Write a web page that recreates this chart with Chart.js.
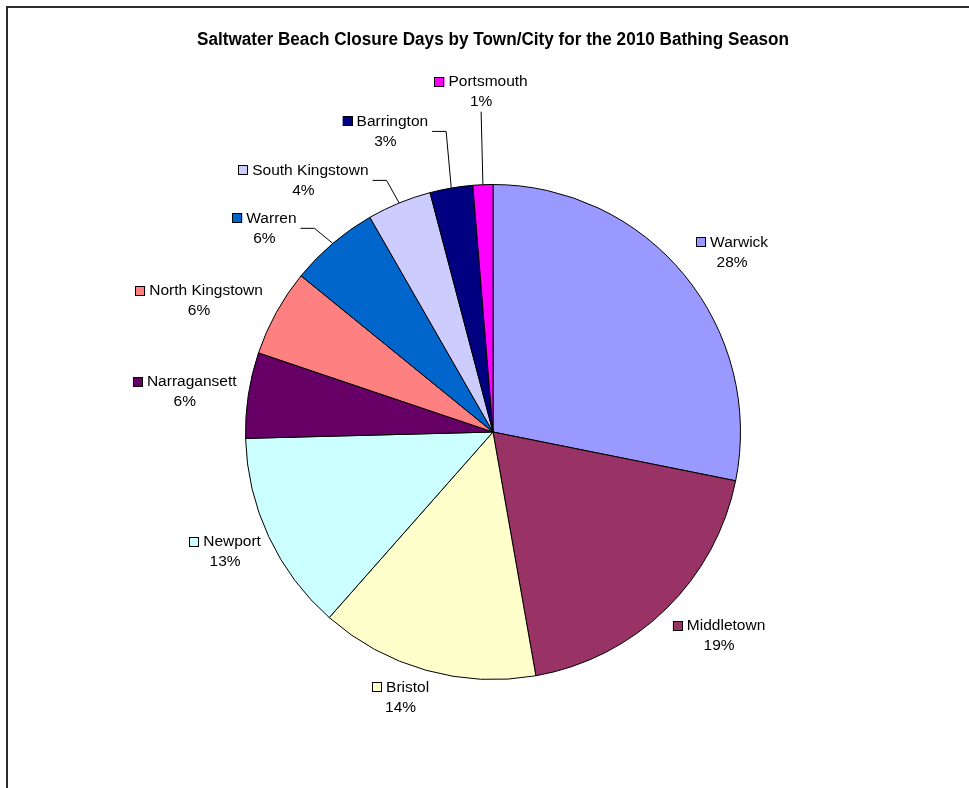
<!DOCTYPE html>
<html>
<head>
<meta charset="utf-8">
<script src="https://cdn.jsdelivr.net/npm/chart.js@4/dist/chart.umd.min.js"></script>
<style>
  body { margin: 0; background: #fff; overflow: hidden; }
  #frame { position: absolute; left: 6px; top: 6px; width: 2000px; height: 2000px; border: 2px solid #2b2b2b; }
  #wrap { position: absolute; left: 0; top: 0; width: 969px; height: 788px; }
</style>
</head>
<body>
<div id="frame"></div>
<div id="wrap"><canvas id="beachChart" width="969" height="788"></canvas></div>
<script>
// Share of closure days per town (clockwise from 12 o'clock)
const towns = ['Warwick', 'Middletown', 'Bristol', 'Newport', 'Narragansett', 'North Kingstown', 'Warren', 'South Kingstown', 'Barrington', 'Portsmouth'];
const closureShare = [28.2, 19.1, 14.3, 13.1, 5.6, 5.7, 5.85, 4.2, 2.8, 1.3];
const sliceColors = ['#9999FF', '#993366', '#FFFFCC', '#CCFFFF', '#660066', '#FF8080', '#0066CC', '#CCCCFF', '#000080', '#FF00FF'];

// where each data label sits: angle (deg clockwise from top) and distance as a multiple of the radius
const labelAngle = [53.1, 132, 199.2, 245.9, 277.4, 294.1, 311.7, 323.0, 340.3, 358.0];
const labelDist = [1.208, 1.229, 1.135, 1.186, 1.256, 1.301, 1.237, 1.273, 1.29, 1.376];
const hasLeader = [false, false, false, false, false, false, true, true, true, true];

const labelFont = '15.5px "Liberation Sans", Arial, sans-serif';

// draws the Excel-style labels (key square + name, percent below) and leader lines
const sliceLabels = {
  id: 'sliceLabels',
  afterDatasetsDraw(chart) {
    const ctx = chart.ctx;
    const meta = chart.getDatasetMeta(0);
    const total = closureShare.reduce((a, b) => a + b, 0);
    ctx.save();
    ctx.font = labelFont;
    ctx.textBaseline = 'middle';
    meta.data.forEach((arc, i) => {
      const p = arc.getProps(['x', 'y', 'outerRadius', 'startAngle', 'endAngle'], true);
      const a = labelAngle[i] * Math.PI / 180 - Math.PI / 2;
      const d = labelDist[i] * p.outerRadius;
      const cx = p.x + Math.cos(a) * d;
      const cy = p.y + Math.sin(a) * d;
      const name = towns[i];
      const tw = ctx.measureText(name).width;
      const key = 10, gap = 4;
      const lw = key + gap + tw;
      const lx = cx - lw / 2;
      const ny = cy - 10, py = cy + 10;

      ctx.fillStyle = sliceColors[i];
      ctx.fillRect(lx, Math.round(ny - key / 2), key, key);
      ctx.strokeStyle = '#000';
      ctx.lineWidth = 1;
      ctx.strokeRect(Math.round(lx) + 0.5, Math.round(ny - key / 2) + 0.5, key - 1, key - 1);

      ctx.fillStyle = '#000';
      ctx.textAlign = 'left';
      ctx.fillText(name, lx + key + gap, ny);
      ctx.textAlign = 'center';
      ctx.fillText(Math.round(closureShare[i] / total * 100) + '%', cx, py);

      if (hasLeader[i]) {
        const mid = (p.startAngle + p.endAngle) / 2;
        const ex = p.x + Math.cos(mid) * p.outerRadius;
        const ey = p.y + Math.sin(mid) * p.outerRadius;
        ctx.beginPath();
        if (Math.abs(ex - cx) < lw / 2) {
          ctx.moveTo(cx, cy + 20);
        } else {
          const sx = lx + lw + 4;
          ctx.moveTo(sx, cy);
          ctx.lineTo(sx + 14, cy);
        }
        ctx.lineTo(ex, ey);
        ctx.stroke();
      }
    });
    ctx.restore();
  }
};

const config = {
  type: 'pie',
  data: {
    labels: towns,
    datasets: [{
      data: closureShare,
      backgroundColor: sliceColors,
      borderColor: '#000',
      borderWidth: 1,
      hoverOffset: 0
    }]
  },
  options: {
    responsive: false,
    devicePixelRatio: 1,
    animation: false,
    events: [],
    layout: { padding: { left: 197, right: 180, top: 0, bottom: 108 } },
    plugins: {
      legend: { display: false },
      tooltip: { enabled: false },
      title: {
        display: true,
        text: 'Saltwater Beach Closure Days by Town/City for the 2010 Bathing Season',
        align: 'start',
        color: '#000',
        font: { family: '"Liberation Sans", Arial, sans-serif', size: 17.5, weight: 'bold', lineHeight: 1.2 },
        padding: { top: 30, bottom: 133 }
      }
    }
  },
  plugins: [sliceLabels]
};

new Chart(document.getElementById('beachChart').getContext('2d'), config);
</script>
</body>
</html>
